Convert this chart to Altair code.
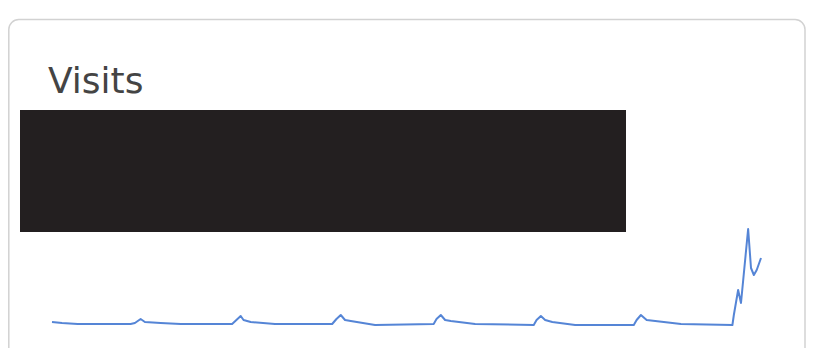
import altair as alt
import pandas as pd

# Sparkline data (day index, visits)
days = [0.0, 0.7, 1.8, 5.5, 5.8, 6.2, 6.5, 7.6, 9.0,
        12.6, 12.9, 13.2, 13.4, 13.9, 15.6,
        19.6, 19.9, 20.2, 20.5, 20.9, 22.6,
        26.7, 26.9, 27.2, 27.5, 27.9, 29.6,
        33.7, 33.9, 34.2, 34.5, 35.0, 36.6,
        40.7, 40.9, 41.2, 41.6, 42.2, 44.0,
        47.6, 47.7, 48.0, 48.2, 48.7, 48.9, 49.1, 49.3, 49.6]
visits = [5, 4, 3, 3, 4, 8, 5, 4, 3,
          3, 7, 11, 7, 5, 3,
          3, 8, 12, 7, 6, 2,
          3, 8, 12, 7, 6, 3,
          2, 7, 11, 7, 5, 2,
          2, 7, 12, 7, 6, 3,
          2, 12, 37, 24, 98, 59, 52, 57, 69]
title_text = "Visits"

df = pd.DataFrame({"day": days, "visits": visits})
one = pd.DataFrame({"k": [0]})

card = alt.Chart(one).mark_rect(
    fill="white", stroke="#d2d2d2", strokeWidth=1.5, cornerRadius=10
).encode(x=alt.value(0.8), x2=alt.value(797), y=alt.value(11.5), y2=alt.value(400))

title = alt.Chart(one).mark_text(
    align="left", baseline="alphabetic", fontSize=36, font="DejaVu Sans",
    fontWeight="normal", color="#444444"
).encode(x=alt.value(40), y=alt.value(85), text=alt.value(title_text))

redact = alt.Chart(one).mark_rect(fill="#231f20").encode(
    x=alt.value(12), x2=alt.value(618), y=alt.value(102), y2=alt.value(224))

line = alt.Chart(df).mark_line(color="#5585d6", strokeWidth=2, strokeJoin="round").encode(
    x=alt.X("day:Q", scale=alt.Scale(domain=[0, 49.6], range=[44, 753], nice=False, zero=False), axis=None),
    y=alt.Y("visits:Q", scale=alt.Scale(domain=[0, 100], range=[319, 219], nice=False), axis=None),
    order="day:Q",
)

chart = alt.layer(card, title, redact, line).properties(
    width=798, height=340, padding=0, autosize=alt.AutoSizeParams(type="none"),
    background="white"
).configure_view(stroke=None)

chart.save("out.html", embed_options={"renderer": "svg", "actions": False})
